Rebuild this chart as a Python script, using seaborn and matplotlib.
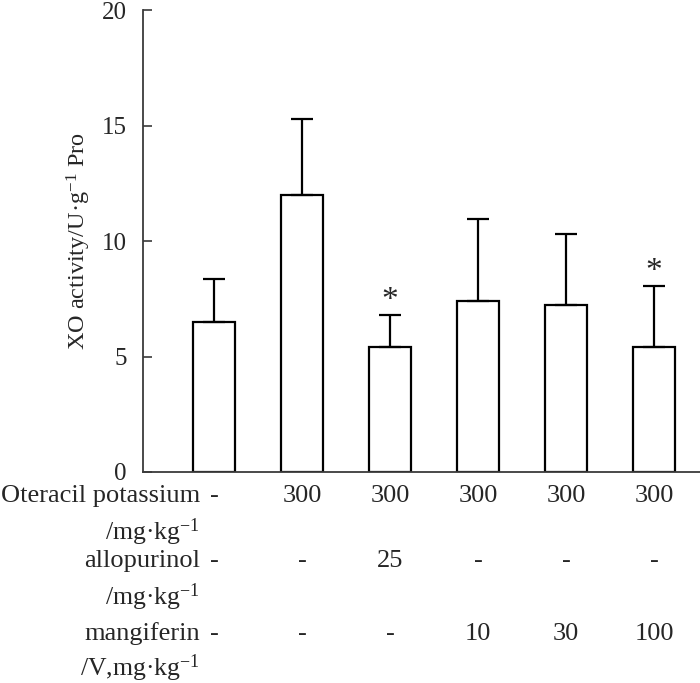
import matplotlib
matplotlib.use('Agg')
import matplotlib.pyplot as plt
import matplotlib.transforms as mtransforms
import seaborn as sb

# groups (one bar each) and the XO activity
groups = ['Control', 'Model', 'Allopurinol', 'Mangiferin 10', 'Mangiferin 30', 'Mangiferin 100']
xo_mean = [6.5, 12.0, 5.4, 7.4, 7.25, 5.4]
xo_sd = [1.85, 3.3, 1.42, 3.55, 3.06, 2.66]
significant = [False, False, True, False, False, True]

# dosing table below the bars
oteracil = ['-', '300', '300', '300', '300', '300']
allopurinol = ['-', '-', '25', '-', '-', '-']
mangiferin = ['-', '-', '-', '10', '30', '100']

sb.set_style('ticks')
plt.rcParams['font.family'] = ['Liberation Serif', 'DejaVu Serif']
plt.rcParams['mathtext.fontset'] = 'custom'
plt.rcParams['mathtext.rm'] = 'Liberation Serif'
plt.rcParams['mathtext.it'] = 'Liberation Serif:italic'

fs = 19
fig = plt.figure(figsize=(7, 6.83), dpi=100)
ax = fig.add_axes([0.204, 0.309, 0.796, 0.676])

sb.barplot(x=groups, y=xo_mean, color='white', saturation=1, edgecolor='black',
           linewidth=1.6, width=0.48, errorbar=None, ax=ax)
ax.errorbar(range(len(groups)), xo_mean, yerr=[[0] * len(xo_sd), xo_sd], fmt='none',
            ecolor='black', elinewidth=1.6, capsize=8, capthick=1.6)

# asterisks for significant groups
for i, (m, s, sig) in enumerate(zip(xo_mean, xo_sd, significant)):
    if sig:
        ax.text(i, m + s + 0.6, '*', ha='center', va='center', fontsize=24)

ax.set_xlim(-0.81, 5.52)
ax.set_ylim(0, 20)
ax.set_yticks([0, 5, 10, 15, 20])
ax.set_xticks([])
ax.tick_params(axis='y', direction='in', length=6.5, width=1.2, pad=11.5,
               labelsize=18, color='#3a3a3a')
for side in ['top', 'right']:
    ax.spines[side].set_visible(False)
for side in ['left', 'bottom']:
    ax.spines[side].set_color('#3a3a3a')
    ax.spines[side].set_linewidth(1.3)

ax.set_ylabel('XO activity/U·g$^{-1}$ Pro', fontsize=17.5)
ax.yaxis.set_label_coords(-0.09, 0.5)

# table under the axis
trans = mtransforms.blended_transform_factory(ax.transData, fig.transFigure)
label_x = 200 / 700

rows = [(496, 'Oteracil potassium', oteracil),
        (532, '/mg·kg$^{-1}$', None),
        (561, 'allopurinol', allopurinol),
        (597, '/mg·kg$^{-1}$', None),
        (634, 'mangiferin', mangiferin),
        (668, '/V,mg·kg$^{-1}$', None)]
for ypix, label, vals in rows:
    yf = 1 - ypix / 683
    size = fs if vals is not None else 18.5
    fig.text(label_x, yf, label, ha='right', va='center', fontsize=size)
    if vals is not None:
        for i, v in enumerate(vals):
            ax.text(i, yf, v, transform=trans, ha='center', va='center', fontsize=fs)

fig.savefig('out.png', dpi=100)
